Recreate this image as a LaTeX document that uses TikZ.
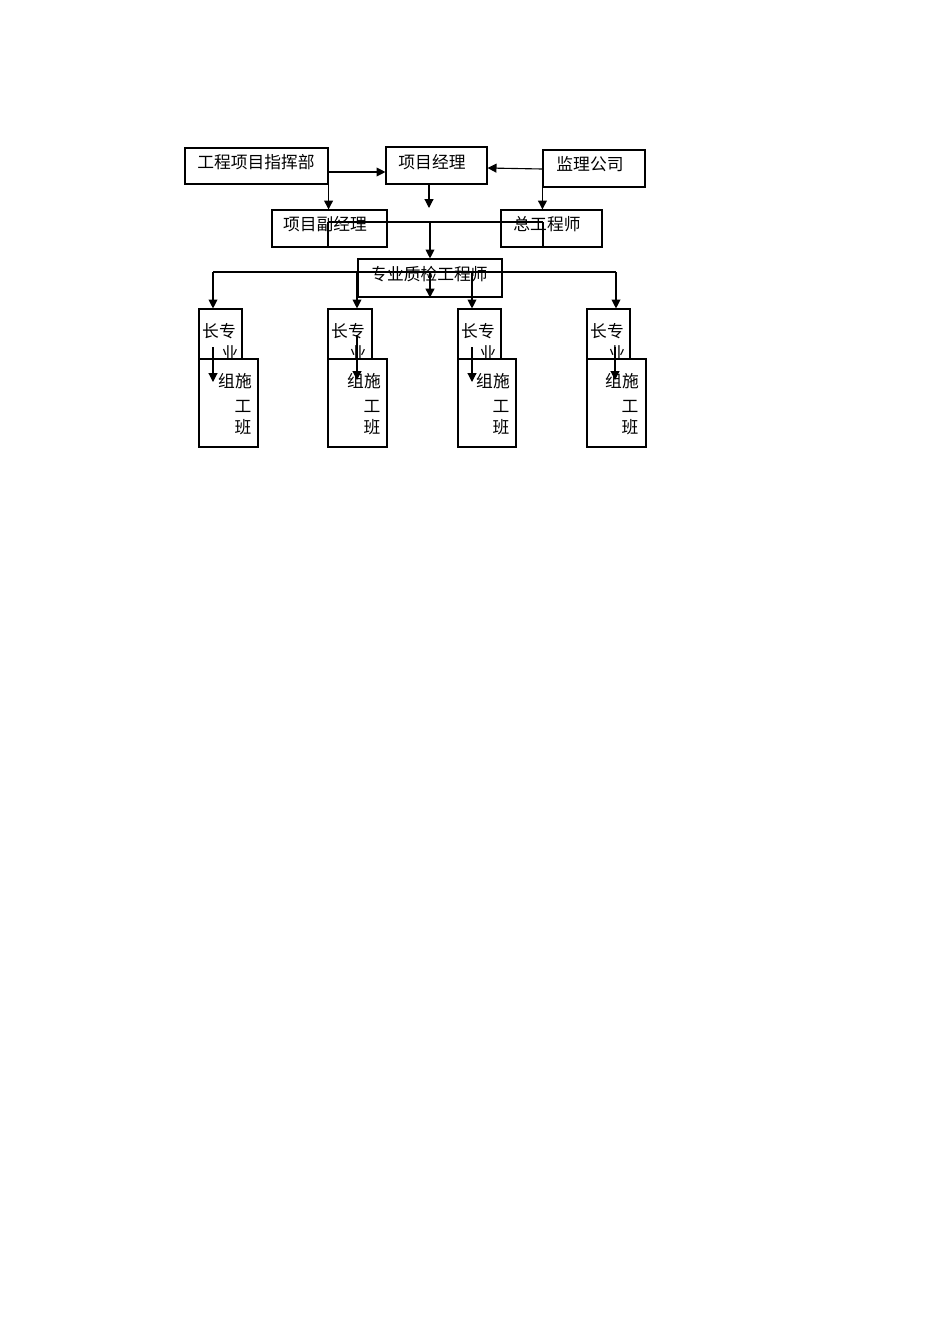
\documentclass[tikz,border=0pt]{standalone}
\usepackage{fontspec}
\newfontfamily\cjk{Noto Sans CJK SC}
\usetikzlibrary{arrows.meta,fit}
\begin{document}
\begin{tikzpicture}[
    x=0.6263pt, y=-0.6263pt,
    box/.style={draw, inner sep=0pt, line width=0.7pt},
    txt/.style={font=\cjk\fontsize{10.5}{12}\selectfont, inner sep=0pt},
    >={Triangle[length=5.6pt,width=5.6pt]},
    line width=0.7pt
]
\useasboundingbox (0,0) rectangle (950,1344);
% Vertici in alto
\node[box, fit={(185,148) (328,184)}] (zhb) {};
\node[txt] (zhb-t) at (256,162) {工程项目指挥部};
\node[box, fit={(386,147) (487,184)}] (xmjl) {};
\node[txt] (xmjl-t) at (432,162) {项目经理};
\node[box, fit={(543,150) (645,187)}] (jlgs) {};
\node[txt] (jlgs-t) at (590,164) {监理公司};
\node[box, fit={(272,210) (387,247)}] (fjl) {};
\node[txt] (fjl-t) at (325,224) {项目副经理};
\node[box, fit={(501,210) (602,247)}] (zgcs) {};
\node[txt] (zgcs-t) at (547,224) {总工程师};
\node[box, fit={(358,259) (502,297)}] (zjgcs) {};
\node[txt] (zjgcs-t) at (429,274) {专业质检工程师};

\coordinate (hA) at (328,222);
\coordinate (hB) at (543,222);
\coordinate (hC) at (213,272);
\coordinate (hD) at (616,272);
\coordinate (hE) at (357,272);
\coordinate (hF) at (472,272);
\coordinate (xm) at (429,184);

\draw[->] (zhb.east |- 0,172) -- (xmjl.west |- 0,172);
\draw[->] (jlgs.west |- 0,169) -- (xmjl.east |- 0,168);
\draw[->] (zhb.south east) -- (zhb.south east |- fjl.north);
\draw[->] (xm) -- (429,208);
\draw[->] (jlgs.south west) -- (jlgs.south west |- zgcs.north);
\draw (hA) -- (hB);
\draw (hA) -- (hA |- fjl.south);
\draw (hB) -- (hB |- zgcs.south);
\draw[->] (zjgcs.north |- hA) -- (zjgcs.north);
\draw (hC) -- (hD);
\draw[->] (zjgcs.north |- hC) -- (zjgcs.south);

% Squadre
\node[box, fit={(199,309) (242,359)}] (zz1) {};
\node[box, fit={(199,359) (258,447)}] (bz1) {};
\node[txt] (zz1-a) at (219,331) {长专};
\node[txt] (zz1-b) at (230,353) {业};
\node[txt] (bz1-a) at (235,381) {组施};
\node[txt] (bz1-b) at (243,406) {工};
\node[txt] (bz1-c) at (243,427) {班};

\node[box, fit={(328,309) (372,359)}] (zz2) {};
\node[box, fit={(328,359) (387,447)}] (bz2) {};
\node[txt] (zz2-a) at (348,331) {长专};
\node[txt] (zz2-b) at (358,353) {业};
\node[txt] (bz2-a) at (364,381) {组施};
\node[txt] (bz2-b) at (372,406) {工};
\node[txt] (bz2-c) at (372,427) {班};

\node[box, fit={(458,309) (501,359)}] (zz3) {};
\node[box, fit={(458,359) (516,447)}] (bz3) {};
\node[txt] (zz3-a) at (478,331) {长专};
\node[txt] (zz3-b) at (488,353) {业};
\node[txt] (bz3-a) at (493,381) {组施};
\node[txt] (bz3-b) at (501,406) {工};
\node[txt] (bz3-c) at (501,427) {班};

\node[box, fit={(587,309) (630,359)}] (zz4) {};
\node[box, fit={(587,359) (646,447)}] (bz4) {};
\node[txt] (zz4-a) at (607,331) {长专};
\node[txt] (zz4-b) at (617,353) {业};
\node[txt] (bz4-a) at (622,381) {组施};
\node[txt] (bz4-b) at (630,406) {工};
\node[txt] (bz4-c) at (630,427) {班};

\draw[->] (hC) -- (hC |- zz1.north);
\draw[->] (hE) -- (hE |- zz2.north);
\draw[->] (hF) -- (hF |- zz3.north);
\draw[->] (hD) -- (hD |- zz4.north);

\draw[->] (213,347) -- (213,382);
\draw[->] (357,335) -- (357,380);
\draw[->] (472,347) -- (472,382);
\draw[->] (615,347) -- (615,380);
\end{tikzpicture}
\end{document}
